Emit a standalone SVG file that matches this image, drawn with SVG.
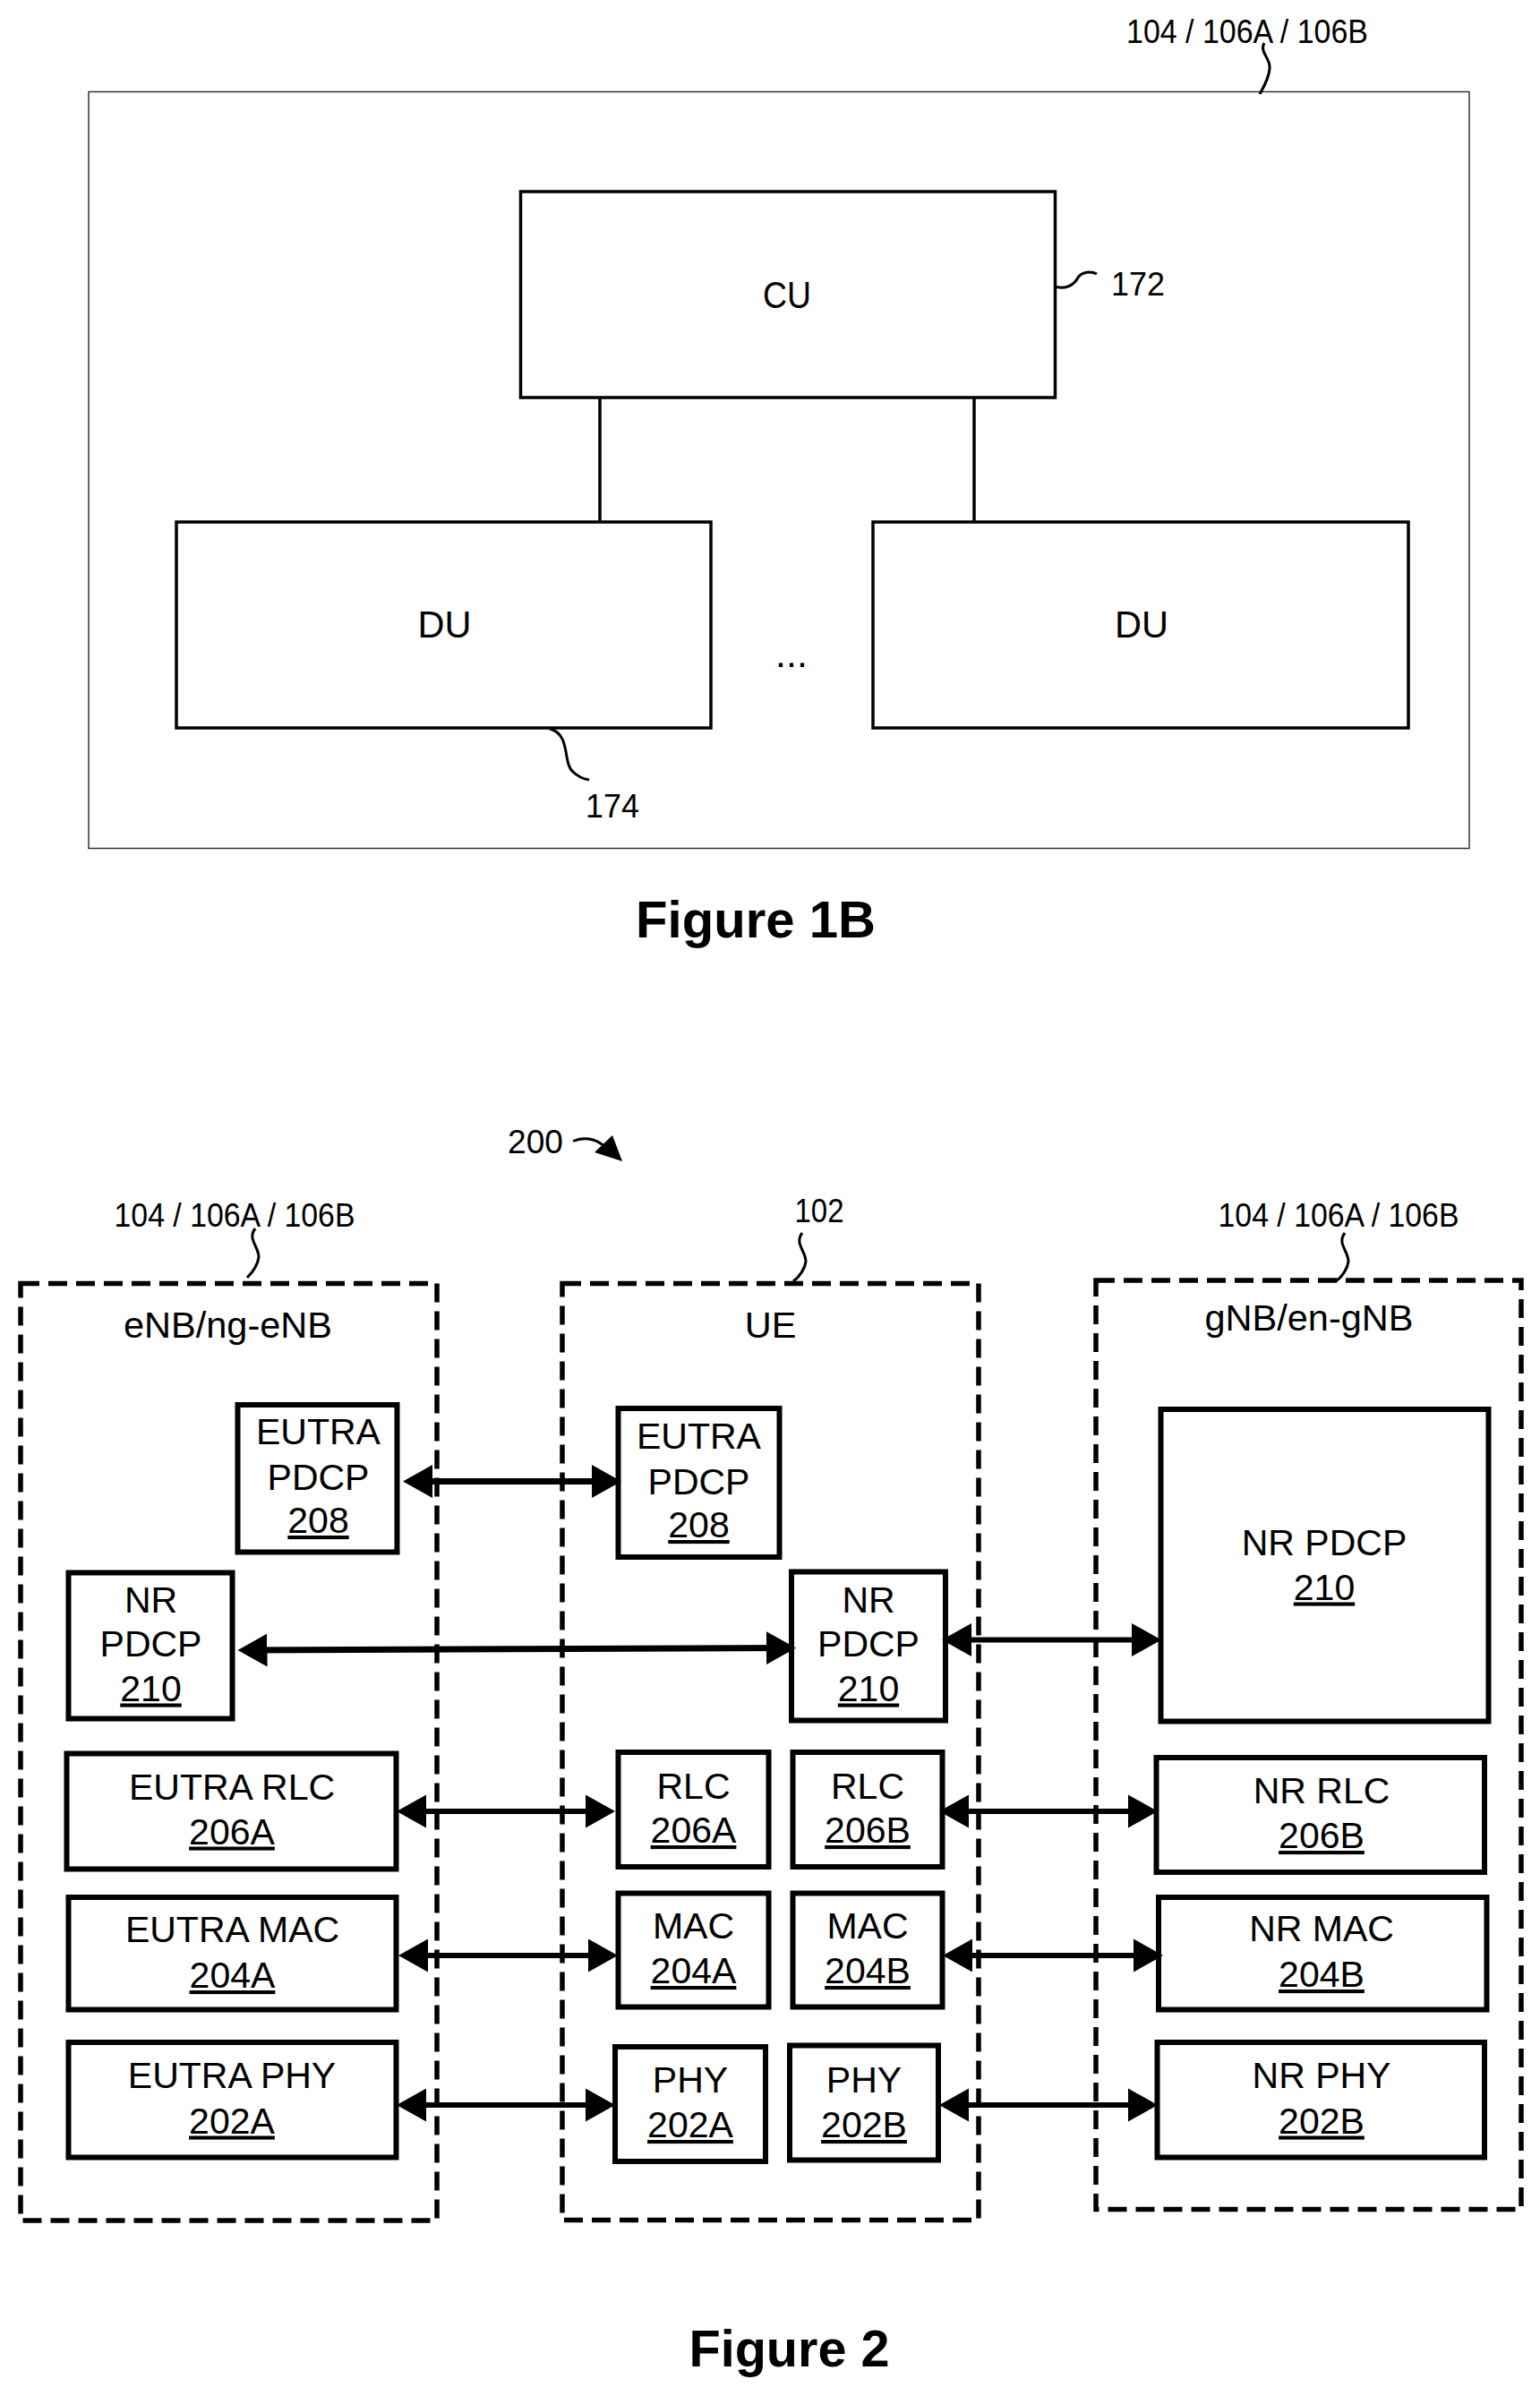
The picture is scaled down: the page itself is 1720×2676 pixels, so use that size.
<svg xmlns="http://www.w3.org/2000/svg" width="1720" height="2676" viewBox="0 0 1720 2676">
<style>
text{font-family:"Liberation Sans",Arial,sans-serif;fill:#000;text-anchor:middle}
.b{fill:#fff;stroke:#000;stroke-width:6}
.d{fill:none;stroke:#000;stroke-width:5.5;stroke-dasharray:21 10}
.t{fill:#fff;stroke:#000;stroke-width:3.5}
.l{font-size:41px}
.w{font-size:41.5px}
.u{font-size:41px;text-decoration:underline}
.s{font-size:37px}
.c{font-size:43px}
.f{font-size:57px;font-weight:bold}
.k{fill:none;stroke:#000;stroke-width:3}
.a{stroke:#000;stroke-width:6;fill:none;marker-start:url(#h);marker-end:url(#h)}
.n{stroke:#000;stroke-width:3.5;fill:none}
</style>
<defs>
<marker id="h" markerUnits="userSpaceOnUse" markerWidth="36" markerHeight="40" refX="24" refY="20" orient="auto-start-reverse" viewBox="0 0 36 40"><path d="M0 1.5L33 20L0 38.5Z" fill="#000"/></marker>
</defs>
<rect width="1720" height="2676" fill="#fff"/>
<g id="fig1b">
<rect id="frame" x="99" y="102.5" width="1542" height="845" fill="#fff" stroke="#333" stroke-width="1.5"/>
<g id="connectors-1b">
<path class="n" d="M670 443V582M1088 443V582"/>
<path class="k" d="M1412 48C1406 58 1420 66 1418 77C1417 88 1411 98 1407 105"/>
<path class="k" d="M1174 318C1188 326 1200 318 1204 310C1208 304 1218 302 1225 306"/>
<path class="k" d="M614 814C638 820 628 852 640 862C646 868 652 870 658 871"/>
</g>
<g id="cu"><rect class="t" x="581.5" y="214" width="597" height="230"/><text class="c" x="879" y="344" textLength="54" lengthAdjust="spacingAndGlyphs">CU</text></g>
<g id="du1"><rect class="t" x="197" y="583" width="597" height="230"/><text class="c" x="496.5" y="712" textLength="60" lengthAdjust="spacingAndGlyphs">DU</text></g>
<g id="du2"><rect class="t" x="975" y="583" width="598" height="230"/><text class="c" x="1275" y="712" textLength="60" lengthAdjust="spacingAndGlyphs">DU</text></g>
<text class="c" x="884" y="745">...</text>
<text class="s" x="1393" y="47.5" textLength="270" lengthAdjust="spacingAndGlyphs">104 / 106A / 106B</text>
<text class="s" x="1271" y="330" textLength="60" lengthAdjust="spacingAndGlyphs">172</text>
<text class="s" x="684" y="913" textLength="60" lengthAdjust="spacingAndGlyphs">174</text>
<text class="f" x="844" y="1047" textLength="268" lengthAdjust="spacingAndGlyphs">Figure 1B</text>
</g>
<g id="fig2">
<text class="s" x="598" y="1288" textLength="62" lengthAdjust="spacingAndGlyphs">200</text>
<path class="k" d="M640 1274.5C650 1270 664 1270 676 1281"/>
<path d="M695 1297L684 1268L664 1287Z" fill="#000"/>
<g id="enb"><rect class="d" x="23" y="1433.5" width="465" height="1046.5"/><text class="w" x="254.5" y="1494">eNB/ng-eNB</text></g>
<g id="ue"><rect class="d" x="628" y="1433.5" width="465" height="1046"/><text class="w" x="860.5" y="1494">UE</text></g>
<g id="gnb"><rect class="d" x="1224" y="1430" width="475" height="1037.5"/><text class="w" x="1462" y="1486">gNB/en-gNB</text></g>
<text class="s" x="262" y="1370" textLength="269" lengthAdjust="spacingAndGlyphs">104 / 106A / 106B</text>
<text class="s" x="915" y="1364.5" textLength="55" lengthAdjust="spacingAndGlyphs">102</text>
<text class="s" x="1495" y="1370" textLength="269" lengthAdjust="spacingAndGlyphs">104 / 106A / 106B</text>
<g id="lead-lines">
<path class="k" d="M285 1372C276 1384 289 1392 289 1404C288 1412 282 1421 276 1427"/>
<path class="k" d="M896 1377C887 1389 900 1397 900 1409C899 1417 893 1426 886 1431"/>
<path class="k" d="M1502 1377C1493 1389 1506 1397 1506 1409C1505 1417 1499 1426 1492 1431"/>
</g>
<g id="e-pdcp-l"><rect class="b" x="265.5" y="1569" width="178" height="164.5"/><text class="l" x="355.5" y="1613">EUTRA</text><text class="l" x="355.5" y="1664">PDCP</text><text class="u" x="355.5" y="1712">208</text></g>
<g id="e-pdcp-u"><rect class="b" x="690.5" y="1573" width="180" height="166"/><text class="l" x="780.5" y="1618">EUTRA</text><text class="l" x="780.5" y="1668.5">PDCP</text><text class="u" x="780.5" y="1717">208</text></g>
<g id="nr-pdcp-l"><rect class="b" x="76.5" y="1756.5" width="183" height="163"/><text class="l" x="168.5" y="1801">NR</text><text class="l" x="168.5" y="1850">PDCP</text><text class="u" x="168.5" y="1899.5">210</text></g>
<g id="nr-pdcp-u"><rect class="b" x="884" y="1755.5" width="172" height="166"/><text class="l" x="970" y="1801">NR</text><text class="l" x="970" y="1850">PDCP</text><text class="u" x="970" y="1899.5">210</text></g>
<g id="nr-pdcp-g"><rect class="b" x="1296.5" y="1574" width="366" height="348.5"/><text class="l" x="1479" y="1736.5">NR PDCP</text><text class="u" x="1479" y="1786.5">210</text></g>
<g id="e-rlc"><rect class="b" x="74.5" y="1958.5" width="368" height="129"/><text class="l" x="259" y="2009.5">EUTRA RLC</text><text class="u" x="259" y="2059.5">206A</text></g>
<g id="rlc-a"><rect class="b" x="690.5" y="1957" width="168" height="128"/><text class="l" x="774.5" y="2008.5">RLC</text><text class="u" x="774.5" y="2058">206A</text></g>
<g id="rlc-b"><rect class="b" x="885.5" y="1957" width="167" height="128"/><text class="l" x="969" y="2008.5">RLC</text><text class="u" x="969" y="2058">206B</text></g>
<g id="nr-rlc"><rect class="b" x="1291.5" y="1963" width="366.5" height="128"/><text class="l" x="1476" y="2014">NR RLC</text><text class="u" x="1476" y="2064">206B</text></g>
<g id="e-mac"><rect class="b" x="76.5" y="2119" width="366" height="125.5"/><text class="l" x="259.5" y="2169">EUTRA MAC</text><text class="u" x="259.5" y="2220">204A</text></g>
<g id="mac-a"><rect class="b" x="690.5" y="2114.5" width="168" height="127"/><text class="l" x="774.5" y="2164.5">MAC</text><text class="u" x="774.5" y="2215">204A</text></g>
<g id="mac-b"><rect class="b" x="885.5" y="2114.5" width="167" height="127"/><text class="l" x="969" y="2164.5">MAC</text><text class="u" x="969" y="2215">204B</text></g>
<g id="nr-mac"><rect class="b" x="1294" y="2119" width="366.5" height="125.5"/><text class="l" x="1476" y="2168">NR MAC</text><text class="u" x="1476" y="2219">204B</text></g>
<g id="e-phy"><rect class="b" x="76.5" y="2281" width="366" height="128.5"/><text class="l" x="259" y="2332">EUTRA PHY</text><text class="u" x="259" y="2382.5">202A</text></g>
<g id="phy-a"><rect class="b" x="687" y="2286" width="168" height="128"/><text class="l" x="771" y="2336.5">PHY</text><text class="u" x="771" y="2387">202A</text></g>
<g id="phy-b"><rect class="b" x="882" y="2284.5" width="166" height="128"/><text class="l" x="965" y="2336.5">PHY</text><text class="u" x="965" y="2387">202B</text></g>
<g id="nr-phy"><rect class="b" x="1292.5" y="2281" width="365.5" height="128.5"/><text class="l" x="1476" y="2332">NR PHY</text><text class="u" x="1476" y="2382.5">202B</text></g>
<g id="connectors">
<line class="a" x1="459" y1="1654.5" x2="685" y2="1654.5" style="stroke-width:7"/>
<line class="a" x1="274.5" y1="1843" x2="880" y2="1840.5" style="stroke-width:7"/>
<line class="a" x1="1061" y1="1831.5" x2="1288" y2="1831.5"/>
<line class="a" x1="452" y1="2023" x2="678" y2="2023"/>
<line class="a" x1="454" y1="2184" x2="681" y2="2184"/>
<line class="a" x1="452" y1="2351" x2="678" y2="2351"/>
<line class="a" x1="1058" y1="2023" x2="1284" y2="2023"/>
<line class="a" x1="1062" y1="2184" x2="1290" y2="2184"/>
<line class="a" x1="1058" y1="2351" x2="1284" y2="2351"/>
</g>
<text class="f" x="881.5" y="2643" textLength="224" lengthAdjust="spacingAndGlyphs">Figure 2</text>
</g>
</svg>
